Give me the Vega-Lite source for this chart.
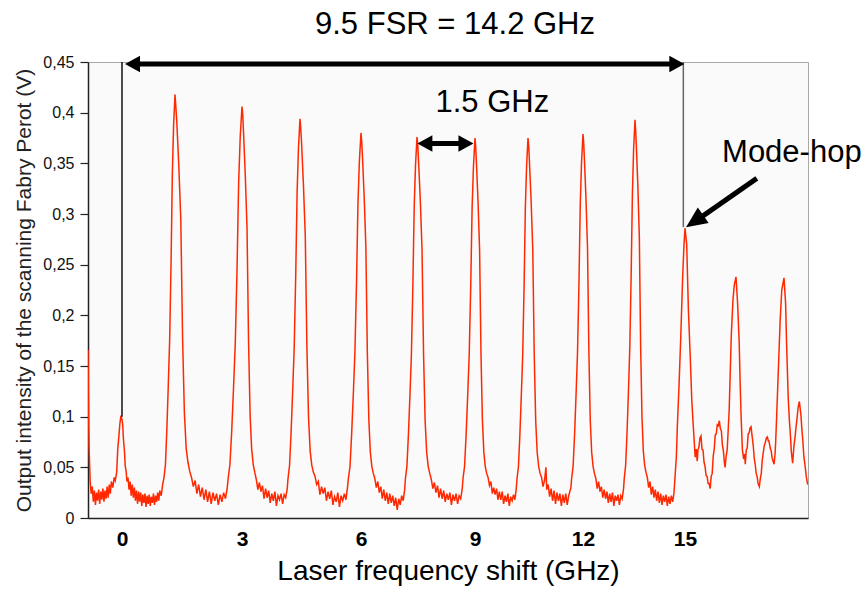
{
"$schema": "https://vega.github.io/schema/vega-lite/v6.json",
"width": 720, "height": 456,
"autosize": {"type": "none"},
"padding": {"left": 88, "top": 62, "right": 60, "bottom": 72},
"background": "white",
"config": {"view": {"fill": "#fafafa", "stroke": "#a8a8a8", "strokeWidth": 1}, "font": "Liberation Sans"},
"title": {"text": "9.5 FSR = 14.2 GHz", "fontSize": 31, "fontWeight": "normal", "color": "#000", "font": "Liberation Sans", "offset": 13, "dx": 7},
"encoding": {
 "x": {"field": "ghz", "type": "quantitative",
  "scale": {"domain": [-0.96, 0, 1.5, 3, 4.5, 6, 7.5, 9, 10.5, 12, 13.5, 15, 16.5, 18, 18.75], "range": [0, 34, 87, 154, 212, 273, 329, 387, 440, 495, 547, 597, 648, 696, 720], "nice": false, "zero": false},
  "axis": {"title": "Laser frequency shift (GHz)", "values": [0, 3, 6, 9, 12, 15], "format": "d", "ticks": false, "labelFontSize": 21, "labelFontWeight": "bold", "labelColor": "#000", "labelPadding": 10, "labelFlush": false, "titleFontSize": 28, "titleFontWeight": "normal", "titleColor": "#000", "titlePadding": 8, "domainColor": "#222", "domainWidth": 1.5, "grid": false}},
 "y": {"field": "v", "type": "quantitative",
  "scale": {"domain": [0, 0.45], "nice": false, "zero": false},
  "axis": {"title": "Output intensity of the scanning Fabry Perot (V)", "values": [0, 0.05, 0.1, 0.15, 0.2, 0.25, 0.3, 0.35, 0.4, 0.45], "labelExpr": "replace(toString(datum.value), '.', ',')", "tickSize": 8, "tickColor": "#222", "tickWidth": 1.2, "labelFontSize": 16, "labelColor": "#111", "labelPadding": 6, "labelFlush": false, "titleFontSize": 21, "titleFontWeight": "normal", "titleColor": "#222", "titlePadding": 8, "domainColor": "#222", "domainWidth": 1.5, "grid": false}}
},
"layer": [
 {"data": {"values": [
  {"ghz":-0.96,"v":0.166},{"ghz":-0.95,"v":0.126},{"ghz":-0.93,"v":0.07},{"ghz":-0.9,"v":0.037},{"ghz":-0.87,"v":0.024},{"ghz":-0.84,"v":0.031},{"ghz":-0.81,"v":0.016},{"ghz":-0.78,"v":0.027},{"ghz":-0.75,"v":0.013},{"ghz":-0.72,"v":0.025},{"ghz":-0.69,"v":0.017},{"ghz":-0.66,"v":0.028},{"ghz":-0.63,"v":0.014},{"ghz":-0.6,"v":0.026},{"ghz":-0.57,"v":0.018},{"ghz":-0.54,"v":0.029},{"ghz":-0.51,"v":0.016},{"ghz":-0.48,"v":0.027},{"ghz":-0.45,"v":0.019},{"ghz":-0.42,"v":0.031},{"ghz":-0.39,"v":0.02},{"ghz":-0.36,"v":0.033},{"ghz":-0.33,"v":0.024},{"ghz":-0.3,"v":0.036},{"ghz":-0.26,"v":0.03},{"ghz":-0.22,"v":0.04},{"ghz":-0.19,"v":0.037},{"ghz":-0.15,"v":0.045},{"ghz":-0.12,"v":0.068},{"ghz":-0.09,"v":0.08},{"ghz":-0.06,"v":0.093},{"ghz":-0.03,"v":0.101},{"ghz":0,"v":0.097},{"ghz":0.02,"v":0.092},{"ghz":0.04,"v":0.078},{"ghz":0.07,"v":0.066},{"ghz":0.09,"v":0.052},{"ghz":0.12,"v":0.045},{"ghz":0.14,"v":0.036},
  {"ghz":0.17,"v":0.04},{"ghz":0.2,"v":0.028},{"ghz":0.23,"v":0.036},{"ghz":0.26,"v":0.022},{"ghz":0.29,"v":0.033},{"ghz":0.32,"v":0.02},{"ghz":0.35,"v":0.03},{"ghz":0.38,"v":0.017},{"ghz":0.41,"v":0.027},{"ghz":0.44,"v":0.014},{"ghz":0.47,"v":0.026},{"ghz":0.5,"v":0.016},{"ghz":0.53,"v":0.025},{"ghz":0.56,"v":0.012},{"ghz":0.59,"v":0.023},{"ghz":0.62,"v":0.015},{"ghz":0.65,"v":0.024},{"ghz":0.68,"v":0.011},{"ghz":0.71,"v":0.022},{"ghz":0.74,"v":0.014},{"ghz":0.77,"v":0.023},{"ghz":0.8,"v":0.012},{"ghz":0.83,"v":0.021},{"ghz":0.86,"v":0.015},{"ghz":0.89,"v":0.024},{"ghz":0.92,"v":0.013},{"ghz":0.95,"v":0.022},{"ghz":0.98,"v":0.016},{"ghz":1.01,"v":0.025},{"ghz":1.04,"v":0.017},{"ghz":1.07,"v":0.027},{"ghz":1.11,"v":0.022},{"ghz":1.15,"v":0.033},
  {"ghz":1.19,"v":0.04},{"ghz":1.23,"v":0.053},{"ghz":1.27,"v":0.088},{"ghz":1.31,"v":0.131},{"ghz":1.35,"v":0.177},{"ghz":1.39,"v":0.255},{"ghz":1.425,"v":0.34},{"ghz":1.46,"v":0.387},{"ghz":1.5,"v":0.418},{"ghz":1.52,"v":0.405},{"ghz":1.54,"v":0.391},{"ghz":1.585,"v":0.348},{"ghz":1.63,"v":0.294},{"ghz":1.67,"v":0.177},{"ghz":1.71,"v":0.104},{"ghz":1.75,"v":0.069},{"ghz":1.79,"v":0.055},{"ghz":1.83,"v":0.046},
  {"ghz":1.87,"v":0.04},{"ghz":1.91,"v":0.031},{"ghz":1.95,"v":0.037},{"ghz":1.99,"v":0.024},{"ghz":2.03,"v":0.033},{"ghz":2.07,"v":0.021},{"ghz":2.11,"v":0.03},{"ghz":2.15,"v":0.018},{"ghz":2.19,"v":0.028},{"ghz":2.23,"v":0.016},{"ghz":2.27,"v":0.026},{"ghz":2.31,"v":0.014},{"ghz":2.35,"v":0.025},{"ghz":2.39,"v":0.017},{"ghz":2.43,"v":0.024},{"ghz":2.47,"v":0.013},{"ghz":2.51,"v":0.023},{"ghz":2.55,"v":0.016},{"ghz":2.59,"v":0.025},{"ghz":2.63,"v":0.019},{"ghz":2.67,"v":0.03},
  {"ghz":2.69,"v":0.039},{"ghz":2.73,"v":0.053},{"ghz":2.77,"v":0.086},{"ghz":2.81,"v":0.128},{"ghz":2.85,"v":0.173},{"ghz":2.89,"v":0.248},{"ghz":2.925,"v":0.331},{"ghz":2.96,"v":0.376},{"ghz":3,"v":0.406},{"ghz":3.02,"v":0.398},{"ghz":3.04,"v":0.38},{"ghz":3.085,"v":0.338},{"ghz":3.13,"v":0.286},{"ghz":3.17,"v":0.173},{"ghz":3.21,"v":0.101},{"ghz":3.25,"v":0.068},{"ghz":3.29,"v":0.053},{"ghz":3.33,"v":0.045},
  {"ghz":3.37,"v":0.038},{"ghz":3.41,"v":0.028},{"ghz":3.45,"v":0.035},{"ghz":3.49,"v":0.026},{"ghz":3.53,"v":0.032},{"ghz":3.57,"v":0.019},{"ghz":3.61,"v":0.029},{"ghz":3.65,"v":0.02},{"ghz":3.69,"v":0.027},{"ghz":3.73,"v":0.015},{"ghz":3.77,"v":0.024},{"ghz":3.81,"v":0.017},{"ghz":3.85,"v":0.026},{"ghz":3.89,"v":0.012},{"ghz":3.93,"v":0.022},{"ghz":3.97,"v":0.018},{"ghz":4.01,"v":0.024},{"ghz":4.05,"v":0.014},{"ghz":4.09,"v":0.023},{"ghz":4.13,"v":0.02},{"ghz":4.17,"v":0.029},
  {"ghz":4.19,"v":0.039},{"ghz":4.23,"v":0.052},{"ghz":4.27,"v":0.085},{"ghz":4.31,"v":0.125},{"ghz":4.35,"v":0.168},{"ghz":4.39,"v":0.241},{"ghz":4.425,"v":0.321},{"ghz":4.46,"v":0.365},{"ghz":4.5,"v":0.394},{"ghz":4.52,"v":0.383},{"ghz":4.54,"v":0.369},{"ghz":4.585,"v":0.328},{"ghz":4.63,"v":0.278},{"ghz":4.67,"v":0.168},{"ghz":4.71,"v":0.099},{"ghz":4.75,"v":0.066},{"ghz":4.79,"v":0.052},{"ghz":4.83,"v":0.045},
  {"ghz":4.87,"v":0.041},{"ghz":4.91,"v":0.033},{"ghz":4.95,"v":0.036},{"ghz":4.99,"v":0.023},{"ghz":5.03,"v":0.031},{"ghz":5.07,"v":0.024},{"ghz":5.11,"v":0.03},{"ghz":5.15,"v":0.017},{"ghz":5.19,"v":0.026},{"ghz":5.23,"v":0.019},{"ghz":5.27,"v":0.027},{"ghz":5.31,"v":0.013},{"ghz":5.35,"v":0.021},{"ghz":5.39,"v":0.016},{"ghz":5.43,"v":0.025},{"ghz":5.47,"v":0.011},{"ghz":5.51,"v":0.022},{"ghz":5.55,"v":0.017},{"ghz":5.59,"v":0.024},{"ghz":5.63,"v":0.018},{"ghz":5.67,"v":0.031},
  {"ghz":5.69,"v":0.039},{"ghz":5.73,"v":0.051},{"ghz":5.77,"v":0.083},{"ghz":5.81,"v":0.121},{"ghz":5.85,"v":0.163},{"ghz":5.89,"v":0.233},{"ghz":5.925,"v":0.31},{"ghz":5.96,"v":0.352},{"ghz":6,"v":0.38},{"ghz":6.02,"v":0.371},{"ghz":6.04,"v":0.356},{"ghz":6.085,"v":0.317},{"ghz":6.13,"v":0.268},{"ghz":6.17,"v":0.163},{"ghz":6.21,"v":0.097},{"ghz":6.25,"v":0.065},{"ghz":6.29,"v":0.051},{"ghz":6.33,"v":0.044},
  {"ghz":6.37,"v":0.039},{"ghz":6.41,"v":0.03},{"ghz":6.45,"v":0.036},{"ghz":6.49,"v":0.025},{"ghz":6.53,"v":0.031},{"ghz":6.57,"v":0.019},{"ghz":6.61,"v":0.028},{"ghz":6.65,"v":0.017},{"ghz":6.69,"v":0.025},{"ghz":6.73,"v":0.014},{"ghz":6.77,"v":0.024},{"ghz":6.81,"v":0.015},{"ghz":6.85,"v":0.022},{"ghz":6.89,"v":0.012},{"ghz":6.93,"v":0.02},{"ghz":6.97,"v":0.008},{"ghz":7.01,"v":0.019},{"ghz":7.05,"v":0.013},{"ghz":7.09,"v":0.022},{"ghz":7.13,"v":0.017},{"ghz":7.17,"v":0.028},
  {"ghz":7.19,"v":0.039},{"ghz":7.23,"v":0.051},{"ghz":7.27,"v":0.082},{"ghz":7.31,"v":0.12},{"ghz":7.35,"v":0.161},{"ghz":7.39,"v":0.231},{"ghz":7.425,"v":0.307},{"ghz":7.46,"v":0.348},{"ghz":7.5,"v":0.376},{"ghz":7.52,"v":0.368},{"ghz":7.54,"v":0.352},{"ghz":7.585,"v":0.314},{"ghz":7.63,"v":0.265},{"ghz":7.67,"v":0.161},{"ghz":7.71,"v":0.096},{"ghz":7.75,"v":0.065},{"ghz":7.79,"v":0.051},{"ghz":7.83,"v":0.044},
  {"ghz":7.87,"v":0.038},{"ghz":7.91,"v":0.029},{"ghz":7.95,"v":0.035},{"ghz":7.99,"v":0.025},{"ghz":8.03,"v":0.032},{"ghz":8.07,"v":0.02},{"ghz":8.11,"v":0.029},{"ghz":8.15,"v":0.019},{"ghz":8.19,"v":0.027},{"ghz":8.23,"v":0.016},{"ghz":8.27,"v":0.024},{"ghz":8.31,"v":0.018},{"ghz":8.35,"v":0.025},{"ghz":8.39,"v":0.013},{"ghz":8.43,"v":0.023},{"ghz":8.47,"v":0.017},{"ghz":8.51,"v":0.024},{"ghz":8.55,"v":0.014},{"ghz":8.59,"v":0.022},{"ghz":8.63,"v":0.019},{"ghz":8.67,"v":0.029},
  {"ghz":8.69,"v":0.039},{"ghz":8.73,"v":0.051},{"ghz":8.77,"v":0.082},{"ghz":8.81,"v":0.12},{"ghz":8.85,"v":0.161},{"ghz":8.89,"v":0.23},{"ghz":8.925,"v":0.306},{"ghz":8.96,"v":0.347},{"ghz":9,"v":0.375},{"ghz":9.02,"v":0.366},{"ghz":9.04,"v":0.351},{"ghz":9.085,"v":0.313},{"ghz":9.13,"v":0.265},{"ghz":9.17,"v":0.161},{"ghz":9.21,"v":0.096},{"ghz":9.25,"v":0.065},{"ghz":9.29,"v":0.051},{"ghz":9.33,"v":0.044},
  {"ghz":9.37,"v":0.04},{"ghz":9.41,"v":0.032},{"ghz":9.45,"v":0.036},{"ghz":9.49,"v":0.024},{"ghz":9.53,"v":0.03},{"ghz":9.57,"v":0.023},{"ghz":9.61,"v":0.029},{"ghz":9.65,"v":0.018},{"ghz":9.69,"v":0.026},{"ghz":9.73,"v":0.018},{"ghz":9.77,"v":0.026},{"ghz":9.81,"v":0.014},{"ghz":9.85,"v":0.022},{"ghz":9.89,"v":0.016},{"ghz":9.93,"v":0.024},{"ghz":9.97,"v":0.012},{"ghz":10.01,"v":0.021},{"ghz":10.05,"v":0.017},{"ghz":10.09,"v":0.023},{"ghz":10.13,"v":0.018},{"ghz":10.17,"v":0.03},
  {"ghz":10.19,"v":0.039},{"ghz":10.23,"v":0.051},{"ghz":10.27,"v":0.082},{"ghz":10.31,"v":0.12},{"ghz":10.35,"v":0.161},{"ghz":10.39,"v":0.23},{"ghz":10.425,"v":0.306},{"ghz":10.46,"v":0.347},{"ghz":10.5,"v":0.375},{"ghz":10.52,"v":0.367},{"ghz":10.54,"v":0.351},{"ghz":10.585,"v":0.313},{"ghz":10.63,"v":0.265},{"ghz":10.67,"v":0.161},{"ghz":10.71,"v":0.096},{"ghz":10.75,"v":0.065},{"ghz":10.79,"v":0.051},{"ghz":10.83,"v":0.044},
  {"ghz":10.87,"v":0.04},{"ghz":10.91,"v":0.031},{"ghz":10.95,"v":0.037},{"ghz":10.99,"v":0.05},{"ghz":11.01,"v":0.028},{"ghz":11.05,"v":0.033},{"ghz":11.09,"v":0.021},{"ghz":11.13,"v":0.029},{"ghz":11.17,"v":0.017},{"ghz":11.21,"v":0.027},{"ghz":11.25,"v":0.014},{"ghz":11.29,"v":0.025},{"ghz":11.33,"v":0.017},{"ghz":11.37,"v":0.024},{"ghz":11.41,"v":0.012},{"ghz":11.45,"v":0.023},{"ghz":11.49,"v":0.015},{"ghz":11.53,"v":0.024},{"ghz":11.57,"v":0.013},{"ghz":11.61,"v":0.022},{"ghz":11.67,"v":0.03},
  {"ghz":11.69,"v":0.039},{"ghz":11.73,"v":0.051},{"ghz":11.77,"v":0.082},{"ghz":11.81,"v":0.121},{"ghz":11.85,"v":0.163},{"ghz":11.89,"v":0.232},{"ghz":11.925,"v":0.309},{"ghz":11.96,"v":0.351},{"ghz":12,"v":0.379},{"ghz":12.02,"v":0.37},{"ghz":12.04,"v":0.355},{"ghz":12.085,"v":0.316},{"ghz":12.13,"v":0.267},{"ghz":12.17,"v":0.163},{"ghz":12.21,"v":0.096},{"ghz":12.25,"v":0.065},{"ghz":12.29,"v":0.051},{"ghz":12.33,"v":0.044},
  {"ghz":12.37,"v":0.039},{"ghz":12.41,"v":0.029},{"ghz":12.45,"v":0.036},{"ghz":12.49,"v":0.026},{"ghz":12.53,"v":0.031},{"ghz":12.57,"v":0.02},{"ghz":12.61,"v":0.028},{"ghz":12.65,"v":0.019},{"ghz":12.69,"v":0.026},{"ghz":12.73,"v":0.015},{"ghz":12.77,"v":0.024},{"ghz":12.81,"v":0.016},{"ghz":12.85,"v":0.025},{"ghz":12.89,"v":0.012},{"ghz":12.93,"v":0.022},{"ghz":12.97,"v":0.017},{"ghz":13.01,"v":0.023},{"ghz":13.05,"v":0.013},{"ghz":13.09,"v":0.022},{"ghz":13.13,"v":0.019},{"ghz":13.17,"v":0.029},
  {"ghz":13.19,"v":0.039},{"ghz":13.23,"v":0.052},{"ghz":13.27,"v":0.084},{"ghz":13.31,"v":0.124},{"ghz":13.35,"v":0.168},{"ghz":13.39,"v":0.241},{"ghz":13.425,"v":0.32},{"ghz":13.46,"v":0.364},{"ghz":13.5,"v":0.393},{"ghz":13.52,"v":0.382},{"ghz":13.54,"v":0.368},{"ghz":13.585,"v":0.328},{"ghz":13.63,"v":0.277},{"ghz":13.67,"v":0.168},{"ghz":13.71,"v":0.099},{"ghz":13.75,"v":0.066},{"ghz":13.79,"v":0.052},{"ghz":13.83,"v":0.045},
  {"ghz":13.87,"v":0.04},{"ghz":13.91,"v":0.03},{"ghz":13.95,"v":0.036},{"ghz":13.99,"v":0.023},{"ghz":14.03,"v":0.031},{"ghz":14.07,"v":0.02},{"ghz":14.11,"v":0.028},{"ghz":14.15,"v":0.017},{"ghz":14.19,"v":0.026},{"ghz":14.23,"v":0.015},{"ghz":14.27,"v":0.024},{"ghz":14.31,"v":0.013},{"ghz":14.35,"v":0.022},{"ghz":14.39,"v":0.016},{"ghz":14.43,"v":0.023},{"ghz":14.47,"v":0.012},{"ghz":14.51,"v":0.021},{"ghz":14.55,"v":0.014},{"ghz":14.59,"v":0.022},{"ghz":14.63,"v":0.016},{"ghz":14.67,"v":0.025},
  {"ghz":14.7,"v":0.04},{"ghz":14.74,"v":0.06},{"ghz":14.77,"v":0.09},{"ghz":14.82,"v":0.13},{"ghz":14.87,"v":0.176},{"ghz":14.93,"v":0.238},{"ghz":14.97,"v":0.27},{"ghz":15,"v":0.286},{"ghz":15.05,"v":0.27},{"ghz":15.1,"v":0.205},{"ghz":15.15,"v":0.163},{"ghz":15.2,"v":0.116},{"ghz":15.25,"v":0.087},{"ghz":15.3,"v":0.06},
  {"ghz":15.33,"v":0.068},{"ghz":15.36,"v":0.056},{"ghz":15.38,"v":0.067},{"ghz":15.41,"v":0.07},{"ghz":15.44,"v":0.079},{"ghz":15.47,"v":0.081},{"ghz":15.5,"v":0.068},{"ghz":15.53,"v":0.067},{"ghz":15.56,"v":0.055},{"ghz":15.59,"v":0.051},{"ghz":15.62,"v":0.042},{"ghz":15.65,"v":0.041},{"ghz":15.68,"v":0.034},{"ghz":15.71,"v":0.034},{"ghz":15.74,"v":0.029},{"ghz":15.77,"v":0.041},{"ghz":15.8,"v":0.044},{"ghz":15.83,"v":0.061},{"ghz":15.86,"v":0.068},{"ghz":15.89,"v":0.082},{"ghz":15.92,"v":0.083},{"ghz":15.95,"v":0.092},{"ghz":15.98,"v":0.091},{"ghz":16.01,"v":0.096},{"ghz":16.04,"v":0.088},{"ghz":16.07,"v":0.086},{"ghz":16.1,"v":0.072},{"ghz":16.13,"v":0.066},{"ghz":16.16,"v":0.054},{"ghz":16.18,"v":0.05},{"ghz":16.21,"v":0.061},{"ghz":16.24,"v":0.067},{"ghz":16.26,"v":0.08},{"ghz":16.3,"v":0.107},{"ghz":16.36,"v":0.179},{"ghz":16.41,"v":0.215},{"ghz":16.45,"v":0.23},{"ghz":16.5,"v":0.238},{"ghz":16.55,"v":0.212},{"ghz":16.6,"v":0.173},{"ghz":16.63,"v":0.133},{"ghz":16.66,"v":0.1},{"ghz":16.7,"v":0.067},{"ghz":16.74,"v":0.058},{"ghz":16.77,"v":0.063},{"ghz":16.79,"v":0.053},{"ghz":16.82,"v":0.067},{"ghz":16.85,"v":0.069},{"ghz":16.88,"v":0.083},{"ghz":16.91,"v":0.084},{"ghz":16.94,"v":0.089},{"ghz":16.97,"v":0.09},{"ghz":17.01,"v":0.079},{"ghz":17.04,"v":0.071},{"ghz":17.07,"v":0.059},{"ghz":17.1,"v":0.053},{"ghz":17.13,"v":0.044},{"ghz":17.16,"v":0.041},{"ghz":17.19,"v":0.034},{"ghz":17.23,"v":0.031},{"ghz":17.26,"v":0.039},{"ghz":17.29,"v":0.044},{"ghz":17.32,"v":0.057},{"ghz":17.35,"v":0.064},{"ghz":17.38,"v":0.071},{"ghz":17.41,"v":0.074},{"ghz":17.45,"v":0.079},{"ghz":17.48,"v":0.08},{"ghz":17.51,"v":0.076},{"ghz":17.53,"v":0.076},{"ghz":17.57,"v":0.069},{"ghz":17.6,"v":0.066},{"ghz":17.63,"v":0.059},{"ghz":17.66,"v":0.056},{"ghz":17.69,"v":0.053},{"ghz":17.72,"v":0.063},{"ghz":17.74,"v":0.075},{"ghz":17.77,"v":0.1},{"ghz":17.82,"v":0.143},{"ghz":17.88,"v":0.195},{"ghz":17.93,"v":0.225},{"ghz":18,"v":0.237},{"ghz":18.05,"v":0.212},{"ghz":18.08,"v":0.173},{"ghz":18.13,"v":0.12},{"ghz":18.17,"v":0.095},{"ghz":18.19,"v":0.087},{"ghz":18.23,"v":0.065},{"ghz":18.27,"v":0.054},{"ghz":18.31,"v":0.071},{"ghz":18.35,"v":0.081},{"ghz":18.38,"v":0.091},{"ghz":18.41,"v":0.099},{"ghz":18.44,"v":0.109},{"ghz":18.48,"v":0.115},{"ghz":18.51,"v":0.107},{"ghz":18.53,"v":0.101},{"ghz":18.56,"v":0.087},{"ghz":18.59,"v":0.076},{"ghz":18.62,"v":0.061},{"ghz":18.66,"v":0.051},{"ghz":18.7,"v":0.04},{"ghz":18.74,"v":0.033}
 ]},
  "mark": {"type": "line", "color": "#ff2800", "strokeWidth": 1.5, "clip": true}},
 {"data": {"values": [{"ghz": 0, "v": 0.1, "v2": 0.45}]},
  "mark": {"type": "rule", "color": "#111", "strokeWidth": 1.5},
  "encoding": {"y2": {"field": "v2"}}},
 {"data": {"values": [{"ghz": 14.95, "v": 0.287, "v2": 0.45}]},
  "mark": {"type": "rule", "color": "#666", "strokeWidth": 1.5},
  "encoding": {"y2": {"field": "v2"}}},
 {"data": {"values": [
   {"ghz": 0.4, "ghz2": 14.65, "v": 0.448, "v2": 0.448},
   {"ghz": 7.7, "ghz2": 8.8, "v": 0.3696, "v2": 0.3696},
   {"ghz": 17.15, "ghz2": 15.35, "v": 0.3352, "v2": 0.294}]},
  "mark": {"type": "rule", "color": "#000", "strokeWidth": 5},
  "encoding": {"x2": {"field": "ghz2"}, "y2": {"field": "v2"}}},
 {"data": {"values": [{"ghz": 0.085, "v": 0.448}, {"ghz": 7.51, "v": 0.3696}]},
  "mark": {"type": "point", "shape": "M0,0L1,-0.55L1,0.55Z", "filled": true, "size": 900, "color": "#000", "opacity": 1}},
 {"data": {"values": [{"ghz": 14.98, "v": 0.448}, {"ghz": 8.96, "v": 0.3696}]},
  "mark": {"type": "point", "shape": "M0,0L-1,-0.55L-1,0.55Z", "filled": true, "size": 900, "color": "#000", "opacity": 1}},
 {"data": {"values": [{"ghz": 15.03, "v": 0.2869}]},
  "mark": {"type": "point", "shape": "M0,0L1,-0.45L1,0.45Z", "filled": true, "size": 1764, "angle": 325, "color": "#000", "opacity": 1}},
 {"data": {"values": [{"ghz": 9.49, "v": 0.401, "label": "1.5 GHz"}]},
  "mark": {"type": "text", "fontSize": 31, "font": "Liberation Sans", "align": "center", "baseline": "alphabetic", "color": "#000"},
  "encoding": {"text": {"field": "label"}}},
 {"data": {"values": [{"ghz": 16.09, "v": 0.3516, "label": "Mode-hop"}]},
  "mark": {"type": "text", "fontSize": 31, "font": "Liberation Sans", "align": "left", "baseline": "alphabetic", "color": "#000"},
  "encoding": {"text": {"field": "label"}}}
]
}
